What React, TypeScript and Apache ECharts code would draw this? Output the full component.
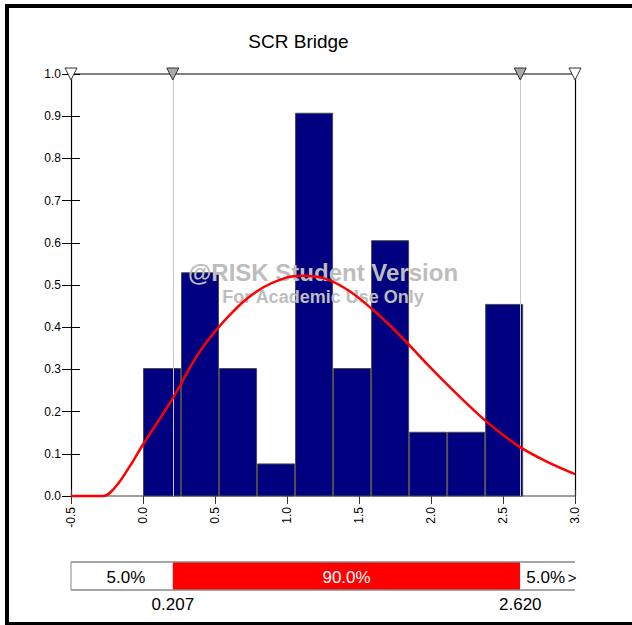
import React, { useEffect, useRef } from "react";
import * as echarts from "echarts";

// Histogram bins (edges) and densities
const binEdges = [0.0, 0.264, 0.528, 0.792, 1.056, 1.32, 1.584, 1.848, 2.112, 2.376, 2.64];
const binHeights = [0.302, 0.529, 0.302, 0.076, 0.907, 0.302, 0.605, 0.151, 0.151, 0.454];

// Fitted curve
const curveX = [-0.5, -0.278, -0.2, -0.1, 0.0, 0.2, 0.4, 0.6, 0.8, 1.0, 1.1, 1.2, 1.4, 1.6, 1.8, 2.0, 2.2, 2.4, 2.6, 2.8, 3.0];
const curveY = [0, 0, 0.018, 0.066, 0.122, 0.228, 0.345, 0.428, 0.487, 0.518, 0.522, 0.52, 0.493, 0.44, 0.375, 0.303, 0.235, 0.172, 0.12, 0.082, 0.052];

// Axis ticks
const xMin = -0.5;
const xMax = 3.0;
const xStep = 0.5;
const yMin = 0;
const yMax = 1;
const yStep = 0.1;

// Delta (percentile) markers
const deltaBounds = [0.207, 2.62];
const deltaBoundLabels = ["0.207", "2.620"];
const deltaPercents = ["5.0%", "90.0%", "5.0%"];

const titleText = "SCR Bridge";
const watermark1 = "@RISK Student Version";
const watermark2 = "For Academic Use Only";

const FONT = '"Liberation Sans", Arial, Helvetica, sans-serif';

export default function App() {
  const ref = useRef<HTMLDivElement>(null);

  useEffect(() => {
    document.body.style.margin = "0";
    if (!ref.current) return;
    const chart = echarts.init(ref.current, undefined, { renderer: "svg" });

    const barData = binHeights.map((h, i) => [binEdges[i], binEdges[i + 1], h]);
    const curveData = curveX.map((x, i) => [x, curveY[i]]);
    const segEdges = [xMin, ...deltaBounds, xMax];
    const segData = deltaPercents.map((p, i) => [segEdges[i], segEdges[i + 1], i]);
    const boundData = deltaBounds.map((v, i) => [v, i]);
    const markerValues = [xMin, ...deltaBounds, xMax];
    const textOffsets = [4, 0, -2];

    const option: any = {
      animation: false,
      backgroundColor: "#ffffff",
      grid: [
        { left: 71, right: 57, top: 74, bottom: 129 },
        { left: 71, right: 57, top: 562, height: 28 },
      ],
      xAxis: [
        {
          type: "value",
          gridIndex: 0,
          min: xMin,
          max: xMax,
          interval: xStep,
          position: "bottom",
          axisLine: { show: true, onZero: false, lineStyle: { color: "#808080", width: 1.5 } },
          axisTick: { show: true, length: 8, lineStyle: { color: "#333" } },
          axisLabel: {
            rotate: 90,
            margin: 11,
            fontSize: 12,
            color: "#000",
            fontFamily: FONT,
            formatter: (v: number) => v.toFixed(1),
          },
          splitLine: { show: false },
        },
        {
          type: "value",
          gridIndex: 0,
          min: xMin,
          max: xMax,
          interval: xStep,
          position: "bottom",
          axisLine: { show: false, onZero: false },
          axisTick: { show: true, inside: true, length: 6, lineStyle: { color: "#333" } },
          axisLabel: { show: false },
          splitLine: { show: false },
        },
        {
          type: "value",
          gridIndex: 0,
          min: xMin,
          max: xMax,
          position: "top",
          axisLine: { show: true, onZero: false, lineStyle: { color: "#555", width: 1.5 } },
          axisTick: { show: false },
          axisLabel: { show: false },
          splitLine: { show: false },
        },
        {
          type: "value",
          gridIndex: 1,
          min: xMin,
          max: xMax,
          show: false,
        },
      ],
      yAxis: [
        {
          type: "value",
          gridIndex: 0,
          min: yMin,
          max: yMax,
          interval: yStep,
          position: "left",
          axisLine: { show: true, onZero: false, lineStyle: { color: "#000", width: 1.2 } },
          axisTick: { show: true, length: 9, lineStyle: { color: "#000" } },
          axisLabel: {
            margin: 10,
            fontSize: 12,
            color: "#000",
            fontFamily: FONT,
            formatter: (v: number) => v.toFixed(1),
          },
          splitLine: { show: false },
        },
        {
          type: "value",
          gridIndex: 0,
          min: yMin,
          max: yMax,
          interval: yStep,
          position: "left",
          axisLine: { show: false, onZero: false },
          axisTick: { show: true, inside: true, length: 9, lineStyle: { color: "#000" } },
          axisLabel: { show: false },
          splitLine: { show: false },
        },
        {
          type: "value",
          gridIndex: 0,
          min: yMin,
          max: yMax,
          position: "right",
          axisLine: { show: true, onZero: false, lineStyle: { color: "#000", width: 1.2 } },
          axisTick: { show: false },
          axisLabel: { show: false },
          splitLine: { show: false },
        },
        {
          type: "value",
          gridIndex: 1,
          min: 0,
          max: 1,
          show: false,
        },
      ],
      graphic: [
        { type: "rect", shape: { x: 5, y: 4, width: 627, height: 4 }, style: { fill: "#000" }, z: 10 },
        { type: "rect", shape: { x: 5, y: 4, width: 4, height: 621 }, style: { fill: "#000" }, z: 10 },
        { type: "rect", shape: { x: 5, y: 622, width: 627, height: 3 }, style: { fill: "#000" }, z: 10 },
        {
          type: "text",
          x: 298.5,
          y: 41,
          z: 10,
          style: {
            text: titleText,
            font: `19px ${FONT}`,
            fill: "#000",
            textAlign: "center",
            textVerticalAlign: "middle",
          },
        },
        {
          type: "text",
          x: 323,
          y: 272,
          z: 3,
          style: {
            text: watermark1,
            font: `bold 24px ${FONT}`,
            fill: "#bdbdbd",
            textAlign: "center",
            textVerticalAlign: "middle",
          },
        },
        {
          type: "text",
          x: 323,
          y: 297,
          z: 3,
          style: {
            text: watermark2,
            font: `bold 18px ${FONT}`,
            fill: "#bdbdbd",
            textAlign: "center",
            textVerticalAlign: "middle",
          },
        },
      ],
      series: [
        {
          type: "custom",
          name: "bins",
          xAxisIndex: 0,
          yAxisIndex: 0,
          z: 2,
          data: barData,
          renderItem: (params: any, api: any) => {
            const p0 = api.coord([api.value(0), api.value(2)]);
            const p1 = api.coord([api.value(1), 0]);
            return {
              type: "rect",
              shape: {
                x: p0[0] + 0.5,
                y: p0[1],
                width: p1[0] - p0[0] - 1,
                height: p1[1] - p0[1],
              },
              style: { fill: "#000080", stroke: "#4a4a4a", lineWidth: 1 },
            };
          },
        },
        {
          type: "line",
          name: "marks",
          xAxisIndex: 0,
          yAxisIndex: 0,
          z: 3,
          data: [],
          silent: true,
          markLine: {
            silent: true,
            symbol: ["none", "none"],
            label: { show: false },
            lineStyle: { color: "#c8c8c8", width: 1, type: "solid" },
            data: deltaBounds.map((v) => ({ xAxis: v })),
          },
        },
        {
          type: "line",
          name: "fit",
          xAxisIndex: 0,
          yAxisIndex: 0,
          z: 5,
          data: curveData,
          smooth: 0.4,
          showSymbol: false,
          symbol: "none",
          clip: false,
          lineStyle: { color: "#ff0000", width: 2.5 },
          markPoint: {
            silent: true,
            symbol: "triangle",
            symbolRotate: 180,
            symbolSize: [12, 12],
            label: { show: false },
            data: markerValues.map((v, i) => ({
              coord: [v, yMax],
              itemStyle: {
                color: i === 0 || i === markerValues.length - 1 ? "#ffffff" : "#a8a8a8",
                borderColor: "#333",
                borderWidth: 1,
              },
            })),
          },
        },
        {
          type: "custom",
          name: "delta",
          xAxisIndex: 3,
          yAxisIndex: 3,
          data: segData,
          renderItem: (params: any, api: any) => {
            const i = params.dataIndex;
            const a = api.coord([api.value(0), 1]);
            const b = api.coord([api.value(1), 0]);
            const children: any[] = [
              {
                type: "rect",
                shape: { x: a[0], y: a[1], width: b[0] - a[0], height: b[1] - a[1] },
                style: { fill: i === 1 ? "#ff0000" : "#ffffff" },
              },
              {
                type: "line",
                shape: { x1: a[0], y1: a[1], x2: b[0], y2: a[1] },
                style: { stroke: "#888", lineWidth: 1.5 },
              },
              {
                type: "line",
                shape: { x1: a[0], y1: b[1], x2: b[0], y2: b[1] },
                style: { stroke: "#888", lineWidth: 1.5 },
              },
            ];
            if (i === 0) {
              children.push({
                type: "line",
                shape: { x1: a[0], y1: a[1], x2: a[0], y2: b[1] },
                style: { stroke: "#888", lineWidth: 1 },
              });
            }
            children.push({
              type: "text",
              x: (a[0] + b[0]) / 2 + textOffsets[i],
              y: (a[1] + b[1]) / 2 + 1,
              style: {
                text: deltaPercents[i],
                font: `17px ${FONT}`,
                fill: i === 1 ? "#ffffff" : "#000000",
                textAlign: "center",
                textVerticalAlign: "middle",
              },
            });
            if (i === deltaPercents.length - 1) {
              children.push({
                type: "text",
                x: b[0] - 3,
                y: (a[1] + b[1]) / 2 + 1,
                style: {
                  text: ">",
                  font: `15px ${FONT}`,
                  fill: "#000000",
                  textAlign: "center",
                  textVerticalAlign: "middle",
                },
              });
            }
            return { type: "group", children };
          },
        },
        {
          type: "custom",
          name: "deltaBounds",
          xAxisIndex: 3,
          yAxisIndex: 3,
          data: boundData,
          renderItem: (params: any, api: any) => {
            const p = api.coord([api.value(0), 0]);
            return {
              type: "text",
              x: p[0],
              y: p[1] + 14,
              style: {
                text: deltaBoundLabels[params.dataIndex],
                font: `17px ${FONT}`,
                fill: "#000",
                textAlign: "center",
                textVerticalAlign: "middle",
              },
            };
          },
        },
      ],
    };

    chart.setOption(option);
    return () => {
      chart.dispose();
    };
  }, []);

  return <div ref={ref} style={{ width: 632, height: 625 }} />;
}
